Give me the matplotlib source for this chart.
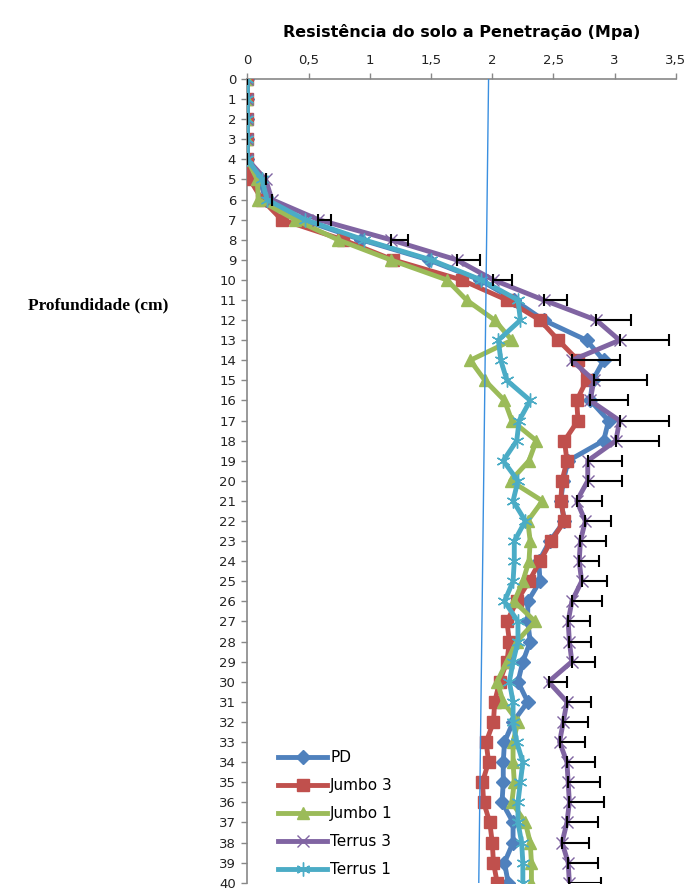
import numpy as np
import matplotlib
matplotlib.use('Agg')
import matplotlib.pyplot as plt

# depth (cm) and penetration resistance (MPa) per treatment
depth = list(range(0, 41))

pd_vals = [0, 0, 0, 0, 0, 0.10, 0.15, 0.45, 0.93, 1.48,
           1.90, 2.18, 2.42, 2.77, 2.91, 2.82, 2.80, 2.95, 2.91, 2.62,
           2.58, 2.56, 2.59, 2.47, 2.38, 2.39, 2.29, 2.29, 2.31, 2.25,
           2.21, 2.29, 2.17, 2.10, 2.09, 2.09, 2.08, 2.17, 2.17, 2.10,
           2.13]
jumbo3 = [0, 0, 0, 0, 0, 0.02, 0.12, 0.28, 0.78, 1.19,
          1.75, 2.12, 2.39, 2.54, 2.70, 2.77, 2.69, 2.70, 2.59, 2.61,
          2.57, 2.56, 2.59, 2.48, 2.39, 2.30, 2.20, 2.12, 2.14, 2.12,
          2.06, 2.02, 2.01, 1.95, 1.97, 1.92, 1.93, 1.98, 2.00, 2.01,
          2.04]
jumbo1 = [0, 0, 0, 0, 0, 0.08, 0.09, 0.39, 0.74, 1.17,
          1.63, 1.79, 2.02, 2.16, 1.82, 1.94, 2.10, 2.16, 2.36, 2.30,
          2.15, 2.41, 2.29, 2.31, 2.30, 2.25, 2.18, 2.35, 2.20, 2.12,
          2.04, 2.09, 2.21, 2.17, 2.17, 2.18, 2.16, 2.27, 2.31, 2.32,
          2.32]
terrus3 = [0, 0, 0, 0, 0, 0.15, 0.20, 0.58, 1.17, 1.71,
           2.01, 2.42, 2.85, 3.04, 2.65, 2.83, 2.80, 3.04, 3.01, 2.78,
           2.78, 2.69, 2.76, 2.72, 2.71, 2.73, 2.65, 2.62, 2.63, 2.65,
           2.46, 2.61, 2.58, 2.55, 2.61, 2.62, 2.63, 2.61, 2.57, 2.62,
           2.63]
terrus1 = [0, 0, 0, 0, 0, 0.12, 0.16, 0.47, 0.95, 1.50,
           1.91, 2.21, 2.23, 2.05, 2.07, 2.12, 2.31, 2.22, 2.20, 2.09,
           2.21, 2.17, 2.27, 2.18, 2.18, 2.17, 2.10, 2.21, 2.21, 2.17,
           2.14, 2.17, 2.17, 2.20, 2.25, 2.23, 2.21, 2.21, 2.24, 2.25,
           2.25]
# positive error bars (Terrus 3)
terrus3_err = [0, 0, 0, 0, 0, 0, 0, 0.10, 0.14, 0.19,
               0.15, 0.19, 0.28, 0.40, 0.39, 0.43, 0.31, 0.40, 0.35, 0.28,
               0.28, 0.21, 0.21, 0.21, 0.16, 0.21, 0.25, 0.18, 0.18, 0.19,
               0.15, 0.20, 0.20, 0.21, 0.23, 0.26, 0.28, 0.25, 0.22, 0.24,
               0.26]

# reference line
ref_x = [1.97, 1.89]
ref_depth = [0, 40]

x_ticks = [0, 0.5, 1, 1.5, 2, 2.5, 3, 3.5]
x_tick_labels = ['0', '0,5', '1', '1,5', '2', '2,5', '3', '3,5']

fig = plt.figure(figsize=(6.89, 8.89), dpi=100)
ax = fig.add_axes([0.359, 0.0071, 0.622, 0.904])

ax.plot(pd_vals, depth, color='#4F81BD', lw=3.5, marker='D', ms=7, label='PD', zorder=3)
ax.plot(jumbo3, depth, color='#C0504D', lw=3.5, marker='s', ms=9, label='Jumbo 3', zorder=4)
ax.plot(jumbo1, depth, color='#9BBB59', lw=3.5, marker='^', ms=9, label='Jumbo 1', zorder=5)
ax.plot(terrus3, depth, color='#8064A2', lw=3.5, marker='x', ms=9, mew=1, label='Terrus 3', zorder=6)
ax.plot(terrus1, depth, color='#4BACC6', lw=3.5, marker=(6, 2, 0), ms=10, mew=1, label='Terrus 1', zorder=7)

err = np.array(terrus3_err)
ax.errorbar(terrus3, depth, xerr=[np.zeros_like(err), err], fmt='none',
            ecolor='black', elinewidth=1.5, capsize=4, capthick=1.5, zorder=8)

ax.plot(ref_x, ref_depth, color='#3A8FE0', lw=1, zorder=9)

ax.set_xlim(0, 3.5)
ax.set_ylim(40, 0)
ax.xaxis.tick_top()
ax.xaxis.set_label_position('top')
ax.set_xticks(x_ticks)
ax.set_xticklabels(x_tick_labels)
ax.set_yticks(depth)
ax.tick_params(axis='both', labelsize=9.5, colors='#222222', length=4, width=1, color='#888888', pad=5)
ax.tick_params(axis='y', pad=4)
ax.set_xlabel('Resistência do solo a Penetração (Mpa)', fontsize=11.5, fontweight='bold', labelpad=12)

for s in ['right', 'bottom']:
    ax.spines[s].set_visible(False)
for s in ['left', 'top']:
    ax.spines[s].set_color('#888888')
    ax.spines[s].set_linewidth(1.2)

fig.text(0.142, 0.657, 'Profundidade (cm)', family='Liberation Serif', fontsize=12.5,
         fontweight='bold', ha='center', va='center')

ax.legend(loc='lower left', bbox_to_anchor=(0.04, -0.01), frameon=False, fontsize=11,
          handlelength=3.2, labelspacing=0.85, handletextpad=0.2)

fig.savefig('out.png', dpi=100)
